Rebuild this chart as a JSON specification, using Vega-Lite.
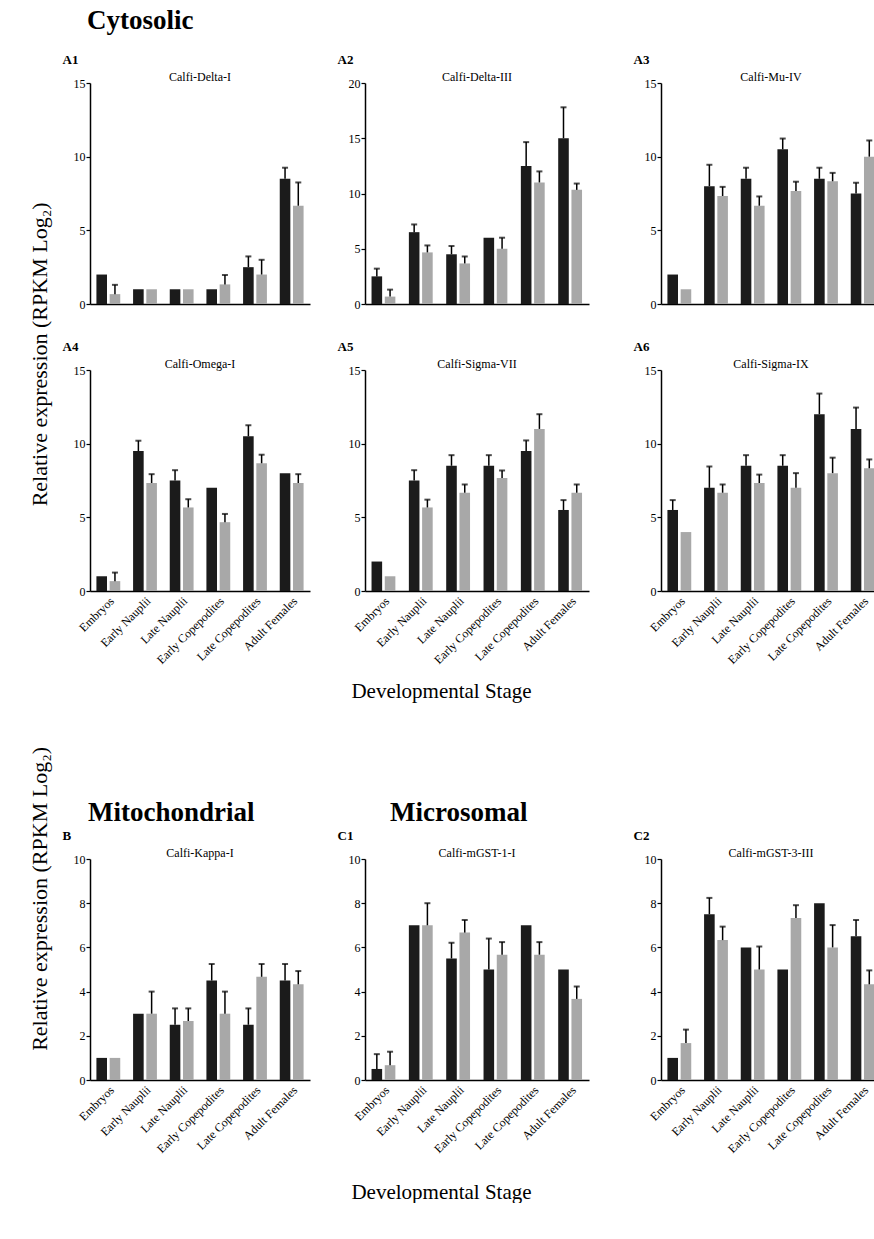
{
  "$schema": "https://vega.github.io/schema/vega-lite/v6.json",
  "padding": {"left": 28, "top": 7, "right": 0, "bottom": 0},
  "background": "white",
  "config": {
    "view": {"stroke": null},
    "font": "Liberation Serif",
    "axis": {"grid": false, "domainColor": "black", "domainWidth": 1.5, "tickColor": "black", "labelColor": "black", "labelFont": "Liberation Serif", "labelFontSize": 12, "titleFont": "Liberation Serif", "titleColor": "black"},
    "axisY": {"tickSize": 4, "tickWidth": 1.2, "labelPadding": 1},
    "axisX": {"ticks": false, "labelAngle": -45, "labelPadding": 4},
    "title": {"font": "Liberation Serif", "color": "black", "fontWeight": "normal", "fontSize": 12, "offset": -31, "anchor": "middle"}
  },
  "data": {"values": [
    {"panel":"A1","stage":"Embryos","series":"s1","value":2,"upper":null},
    {"panel":"A1","stage":"Embryos","series":"s2","value":0.67,"upper":1.3},
    {"panel":"A1","stage":"Early Nauplii","series":"s1","value":1,"upper":null},
    {"panel":"A1","stage":"Early Nauplii","series":"s2","value":1,"upper":null},
    {"panel":"A1","stage":"Late Nauplii","series":"s1","value":1,"upper":null},
    {"panel":"A1","stage":"Late Nauplii","series":"s2","value":1,"upper":null},
    {"panel":"A1","stage":"Early Copepodites","series":"s1","value":1,"upper":null},
    {"panel":"A1","stage":"Early Copepodites","series":"s2","value":1.33,"upper":1.97},
    {"panel":"A1","stage":"Late Copepodites","series":"s1","value":2.5,"upper":3.23},
    {"panel":"A1","stage":"Late Copepodites","series":"s2","value":2,"upper":3},
    {"panel":"A1","stage":"Adult Females","series":"s1","value":8.5,"upper":9.25},
    {"panel":"A1","stage":"Adult Females","series":"s2","value":6.67,"upper":8.25},

    {"panel":"A2","stage":"Embryos","series":"s1","value":2.5,"upper":3.2},
    {"panel":"A2","stage":"Embryos","series":"s2","value":0.67,"upper":1.3},
    {"panel":"A2","stage":"Early Nauplii","series":"s1","value":6.5,"upper":7.2},
    {"panel":"A2","stage":"Early Nauplii","series":"s2","value":4.67,"upper":5.3},
    {"panel":"A2","stage":"Late Nauplii","series":"s1","value":4.5,"upper":5.25},
    {"panel":"A2","stage":"Late Nauplii","series":"s2","value":3.67,"upper":4.3},
    {"panel":"A2","stage":"Early Copepodites","series":"s1","value":6,"upper":null},
    {"panel":"A2","stage":"Early Copepodites","series":"s2","value":5,"upper":6},
    {"panel":"A2","stage":"Late Copepodites","series":"s1","value":12.5,"upper":14.65},
    {"panel":"A2","stage":"Late Copepodites","series":"s2","value":11,"upper":12},
    {"panel":"A2","stage":"Adult Females","series":"s1","value":15,"upper":17.8},
    {"panel":"A2","stage":"Adult Females","series":"s2","value":10.33,"upper":10.9},

    {"panel":"A3","stage":"Embryos","series":"s1","value":2,"upper":null},
    {"panel":"A3","stage":"Embryos","series":"s2","value":1,"upper":null},
    {"panel":"A3","stage":"Early Nauplii","series":"s1","value":8,"upper":9.45},
    {"panel":"A3","stage":"Early Nauplii","series":"s2","value":7.33,"upper":7.95},
    {"panel":"A3","stage":"Late Nauplii","series":"s1","value":8.5,"upper":9.25},
    {"panel":"A3","stage":"Late Nauplii","series":"s2","value":6.67,"upper":7.3},
    {"panel":"A3","stage":"Early Copepodites","series":"s1","value":10.5,"upper":11.23},
    {"panel":"A3","stage":"Early Copepodites","series":"s2","value":7.67,"upper":8.3},
    {"panel":"A3","stage":"Late Copepodites","series":"s1","value":8.5,"upper":9.25},
    {"panel":"A3","stage":"Late Copepodites","series":"s2","value":8.33,"upper":8.9},
    {"panel":"A3","stage":"Adult Females","series":"s1","value":7.5,"upper":8.23},
    {"panel":"A3","stage":"Adult Females","series":"s2","value":10,"upper":11.1},

    {"panel":"A4","stage":"Embryos","series":"s1","value":1,"upper":null},
    {"panel":"A4","stage":"Embryos","series":"s2","value":0.67,"upper":1.25},
    {"panel":"A4","stage":"Early Nauplii","series":"s1","value":9.5,"upper":10.2},
    {"panel":"A4","stage":"Early Nauplii","series":"s2","value":7.33,"upper":7.93},
    {"panel":"A4","stage":"Late Nauplii","series":"s1","value":7.5,"upper":8.2},
    {"panel":"A4","stage":"Late Nauplii","series":"s2","value":5.67,"upper":6.23},
    {"panel":"A4","stage":"Early Copepodites","series":"s1","value":7,"upper":null},
    {"panel":"A4","stage":"Early Copepodites","series":"s2","value":4.67,"upper":5.23},
    {"panel":"A4","stage":"Late Copepodites","series":"s1","value":10.5,"upper":11.25},
    {"panel":"A4","stage":"Late Copepodites","series":"s2","value":8.67,"upper":9.25},
    {"panel":"A4","stage":"Adult Females","series":"s1","value":8,"upper":null},
    {"panel":"A4","stage":"Adult Females","series":"s2","value":7.33,"upper":7.93},

    {"panel":"A5","stage":"Embryos","series":"s1","value":2,"upper":null},
    {"panel":"A5","stage":"Embryos","series":"s2","value":1,"upper":null},
    {"panel":"A5","stage":"Early Nauplii","series":"s1","value":7.5,"upper":8.2},
    {"panel":"A5","stage":"Early Nauplii","series":"s2","value":5.67,"upper":6.2},
    {"panel":"A5","stage":"Late Nauplii","series":"s1","value":8.5,"upper":9.22},
    {"panel":"A5","stage":"Late Nauplii","series":"s2","value":6.67,"upper":7.23},
    {"panel":"A5","stage":"Early Copepodites","series":"s1","value":8.5,"upper":9.22},
    {"panel":"A5","stage":"Early Copepodites","series":"s2","value":7.67,"upper":8.18},
    {"panel":"A5","stage":"Late Copepodites","series":"s1","value":9.5,"upper":10.22},
    {"panel":"A5","stage":"Late Copepodites","series":"s2","value":11,"upper":12},
    {"panel":"A5","stage":"Adult Females","series":"s1","value":5.5,"upper":6.17},
    {"panel":"A5","stage":"Adult Females","series":"s2","value":6.67,"upper":7.23},

    {"panel":"A6","stage":"Embryos","series":"s1","value":5.5,"upper":6.17},
    {"panel":"A6","stage":"Embryos","series":"s2","value":4,"upper":null},
    {"panel":"A6","stage":"Early Nauplii","series":"s1","value":7,"upper":8.45},
    {"panel":"A6","stage":"Early Nauplii","series":"s2","value":6.67,"upper":7.23},
    {"panel":"A6","stage":"Late Nauplii","series":"s1","value":8.5,"upper":9.22},
    {"panel":"A6","stage":"Late Nauplii","series":"s2","value":7.33,"upper":7.9},
    {"panel":"A6","stage":"Early Copepodites","series":"s1","value":8.5,"upper":9.22},
    {"panel":"A6","stage":"Early Copepodites","series":"s2","value":7,"upper":8},
    {"panel":"A6","stage":"Late Copepodites","series":"s1","value":12,"upper":13.4},
    {"panel":"A6","stage":"Late Copepodites","series":"s2","value":8,"upper":9.05},
    {"panel":"A6","stage":"Adult Females","series":"s1","value":11,"upper":12.45},
    {"panel":"A6","stage":"Adult Females","series":"s2","value":8.33,"upper":8.93},

    {"panel":"B","stage":"Embryos","series":"s1","value":1,"upper":null},
    {"panel":"B","stage":"Embryos","series":"s2","value":1,"upper":null},
    {"panel":"B","stage":"Early Nauplii","series":"s1","value":3,"upper":null},
    {"panel":"B","stage":"Early Nauplii","series":"s2","value":3,"upper":4},
    {"panel":"B","stage":"Late Nauplii","series":"s1","value":2.5,"upper":3.24},
    {"panel":"B","stage":"Late Nauplii","series":"s2","value":2.67,"upper":3.24},
    {"panel":"B","stage":"Early Copepodites","series":"s1","value":4.5,"upper":5.25},
    {"panel":"B","stage":"Early Copepodites","series":"s2","value":3,"upper":4},
    {"panel":"B","stage":"Late Copepodites","series":"s1","value":2.5,"upper":3.24},
    {"panel":"B","stage":"Late Copepodites","series":"s2","value":4.67,"upper":5.25},
    {"panel":"B","stage":"Adult Females","series":"s1","value":4.5,"upper":5.25},
    {"panel":"B","stage":"Adult Females","series":"s2","value":4.33,"upper":4.93},

    {"panel":"C1","stage":"Embryos","series":"s1","value":0.5,"upper":1.17},
    {"panel":"C1","stage":"Embryos","series":"s2","value":0.67,"upper":1.28},
    {"panel":"C1","stage":"Early Nauplii","series":"s1","value":7,"upper":null},
    {"panel":"C1","stage":"Early Nauplii","series":"s2","value":7,"upper":8},
    {"panel":"C1","stage":"Late Nauplii","series":"s1","value":5.5,"upper":6.21},
    {"panel":"C1","stage":"Late Nauplii","series":"s2","value":6.67,"upper":7.24},
    {"panel":"C1","stage":"Early Copepodites","series":"s1","value":5,"upper":6.4},
    {"panel":"C1","stage":"Early Copepodites","series":"s2","value":5.67,"upper":6.24},
    {"panel":"C1","stage":"Late Copepodites","series":"s1","value":7,"upper":null},
    {"panel":"C1","stage":"Late Copepodites","series":"s2","value":5.67,"upper":6.24},
    {"panel":"C1","stage":"Adult Females","series":"s1","value":5,"upper":null},
    {"panel":"C1","stage":"Adult Females","series":"s2","value":3.67,"upper":4.23},

    {"panel":"C2","stage":"Embryos","series":"s1","value":1,"upper":null},
    {"panel":"C2","stage":"Embryos","series":"s2","value":1.67,"upper":2.28},
    {"panel":"C2","stage":"Early Nauplii","series":"s1","value":7.5,"upper":8.24},
    {"panel":"C2","stage":"Early Nauplii","series":"s2","value":6.33,"upper":6.94},
    {"panel":"C2","stage":"Late Nauplii","series":"s1","value":6,"upper":null},
    {"panel":"C2","stage":"Late Nauplii","series":"s2","value":5,"upper":6.04},
    {"panel":"C2","stage":"Early Copepodites","series":"s1","value":5,"upper":null},
    {"panel":"C2","stage":"Early Copepodites","series":"s2","value":7.33,"upper":7.91},
    {"panel":"C2","stage":"Late Copepodites","series":"s1","value":8,"upper":null},
    {"panel":"C2","stage":"Late Copepodites","series":"s2","value":6,"upper":7.01},
    {"panel":"C2","stage":"Adult Females","series":"s1","value":6.5,"upper":7.24},
    {"panel":"C2","stage":"Adult Females","series":"s2","value":4.33,"upper":4.96}
  ]},
  "spacing": 44,
  "vconcat": [
    {
      "title": {"text": "Relative expression (RPKM Log₂)", "orient": "left", "fontSize": 22, "anchor": "middle", "offset": 10},
      "vconcat": [
        {
          "title": {"text": "Developmental Stage", "orient": "bottom", "fontSize": 21, "anchor": "middle", "offset": 15, "dx": -30},
          "spacing": 30,
          "vconcat": [
            {
              "title": {"text": "Cytosolic", "fontSize": 27, "fontWeight": "bold", "anchor": "start", "dx": 25, "offset": 18},
              "spacing": 44,
              "hconcat": [
                {"spacing": 27, "hconcat": [
                  {"width": 220, "height": 221, "title": {"text": "Calfi-Delta-I"}, "transform": [{"filter": "datum.panel === 'A1'"}],
                   "encoding": {"x": {"field": "stage", "type": "nominal", "sort": ["Embryos","Early Nauplii","Late Nauplii","Early Copepodites","Late Copepodites","Adult Females"], "title": null, "scale": {"paddingInner": 0.35, "paddingOuter": 0.175}, "axis": {"labels": false}},
                     "xOffset": {"field": "series", "type": "nominal", "scale": {"paddingInner": 0.2}}},
                   "layer": [
                     {"mark": {"type": "bar"}, "encoding": {"y": {"field": "value", "type": "quantitative", "scale": {"domain": [0, 15], "nice": false}, "axis": {"values": [0,5,10,15], "title": "A1", "titleAngle": 0, "titleAlign": "left", "titleBaseline": "alphabetic", "titleX": -28, "titleY": -20, "titleFontSize": 13, "titleFontWeight": "bold"}}, "color": {"field": "series", "type": "nominal", "scale": {"domain": ["s1","s2"], "range": ["#1b1b1b","#a8a8a8"]}, "legend": null}}},
                     {"transform": [{"filter": "datum.upper != null"}], "mark": {"type": "rule", "color": "black", "strokeWidth": 1.5}, "encoding": {"y": {"field": "value", "type": "quantitative"}, "y2": {"field": "upper"}}},
                     {"transform": [{"filter": "datum.upper != null"}], "mark": {"type": "tick", "color": "black", "size": 6, "thickness": 2}, "encoding": {"y": {"field": "upper", "type": "quantitative"}}}
                   ]},
                  {"width": 224, "height": 221, "title": {"text": "Calfi-Delta-III"}, "transform": [{"filter": "datum.panel === 'A2'"}],
                   "encoding": {"x": {"field": "stage", "type": "nominal", "sort": ["Embryos","Early Nauplii","Late Nauplii","Early Copepodites","Late Copepodites","Adult Females"], "title": null, "scale": {"paddingInner": 0.35, "paddingOuter": 0.175}, "axis": {"labels": false}},
                     "xOffset": {"field": "series", "type": "nominal", "scale": {"paddingInner": 0.2}}},
                   "layer": [
                     {"mark": {"type": "bar"}, "encoding": {"y": {"field": "value", "type": "quantitative", "scale": {"domain": [0, 20], "nice": false}, "axis": {"values": [0,5,10,15,20], "title": "A2", "titleAngle": 0, "titleAlign": "left", "titleBaseline": "alphabetic", "titleX": -28, "titleY": -20, "titleFontSize": 13, "titleFontWeight": "bold"}}, "color": {"field": "series", "type": "nominal", "scale": {"domain": ["s1","s2"], "range": ["#1b1b1b","#a8a8a8"]}, "legend": null}}},
                     {"transform": [{"filter": "datum.upper != null"}], "mark": {"type": "rule", "color": "black", "strokeWidth": 1.5}, "encoding": {"y": {"field": "value", "type": "quantitative"}, "y2": {"field": "upper"}}},
                     {"transform": [{"filter": "datum.upper != null"}], "mark": {"type": "tick", "color": "black", "size": 6, "thickness": 2}, "encoding": {"y": {"field": "upper", "type": "quantitative"}}}
                   ]}
                ]},
                {"width": 220, "height": 221, "title": {"text": "Calfi-Mu-IV"}, "transform": [{"filter": "datum.panel === 'A3'"}],
                 "encoding": {"x": {"field": "stage", "type": "nominal", "sort": ["Embryos","Early Nauplii","Late Nauplii","Early Copepodites","Late Copepodites","Adult Females"], "title": null, "scale": {"paddingInner": 0.35, "paddingOuter": 0.175}, "axis": {"labels": false}},
                   "xOffset": {"field": "series", "type": "nominal", "scale": {"paddingInner": 0.2}}},
                 "layer": [
                   {"mark": {"type": "bar"}, "encoding": {"y": {"field": "value", "type": "quantitative", "scale": {"domain": [0, 15], "nice": false}, "axis": {"values": [0,5,10,15], "title": "A3", "titleAngle": 0, "titleAlign": "left", "titleBaseline": "alphabetic", "titleX": -28, "titleY": -20, "titleFontSize": 13, "titleFontWeight": "bold"}}, "color": {"field": "series", "type": "nominal", "scale": {"domain": ["s1","s2"], "range": ["#1b1b1b","#a8a8a8"]}, "legend": null}}},
                   {"transform": [{"filter": "datum.upper != null"}], "mark": {"type": "rule", "color": "black", "strokeWidth": 1.5}, "encoding": {"y": {"field": "value", "type": "quantitative"}, "y2": {"field": "upper"}}},
                   {"transform": [{"filter": "datum.upper != null"}], "mark": {"type": "tick", "color": "black", "size": 6, "thickness": 2}, "encoding": {"y": {"field": "upper", "type": "quantitative"}}}
                 ]}
              ]
            },
            {
              "spacing": 44,
              "hconcat": [
                {"spacing": 27, "hconcat": [
                  {"width": 220, "height": 221, "title": {"text": "Calfi-Omega-I"}, "transform": [{"filter": "datum.panel === 'A4'"}],
                   "encoding": {"x": {"field": "stage", "type": "nominal", "sort": ["Embryos","Early Nauplii","Late Nauplii","Early Copepodites","Late Copepodites","Adult Females"], "title": null, "scale": {"paddingInner": 0.35, "paddingOuter": 0.175}},
                     "xOffset": {"field": "series", "type": "nominal", "scale": {"paddingInner": 0.2}}},
                   "layer": [
                     {"mark": {"type": "bar"}, "encoding": {"y": {"field": "value", "type": "quantitative", "scale": {"domain": [0, 15], "nice": false}, "axis": {"values": [0,5,10,15], "title": "A4", "titleAngle": 0, "titleAlign": "left", "titleBaseline": "alphabetic", "titleX": -28, "titleY": -20, "titleFontSize": 13, "titleFontWeight": "bold"}}, "color": {"field": "series", "type": "nominal", "scale": {"domain": ["s1","s2"], "range": ["#1b1b1b","#a8a8a8"]}, "legend": null}}},
                     {"transform": [{"filter": "datum.upper != null"}], "mark": {"type": "rule", "color": "black", "strokeWidth": 1.5}, "encoding": {"y": {"field": "value", "type": "quantitative"}, "y2": {"field": "upper"}}},
                     {"transform": [{"filter": "datum.upper != null"}], "mark": {"type": "tick", "color": "black", "size": 6, "thickness": 2}, "encoding": {"y": {"field": "upper", "type": "quantitative"}}}
                   ]},
                  {"width": 224, "height": 221, "title": {"text": "Calfi-Sigma-VII"}, "transform": [{"filter": "datum.panel === 'A5'"}],
                   "encoding": {"x": {"field": "stage", "type": "nominal", "sort": ["Embryos","Early Nauplii","Late Nauplii","Early Copepodites","Late Copepodites","Adult Females"], "title": null, "scale": {"paddingInner": 0.35, "paddingOuter": 0.175}},
                     "xOffset": {"field": "series", "type": "nominal", "scale": {"paddingInner": 0.2}}},
                   "layer": [
                     {"mark": {"type": "bar"}, "encoding": {"y": {"field": "value", "type": "quantitative", "scale": {"domain": [0, 15], "nice": false}, "axis": {"values": [0,5,10,15], "title": "A5", "titleAngle": 0, "titleAlign": "left", "titleBaseline": "alphabetic", "titleX": -28, "titleY": -20, "titleFontSize": 13, "titleFontWeight": "bold"}}, "color": {"field": "series", "type": "nominal", "scale": {"domain": ["s1","s2"], "range": ["#1b1b1b","#a8a8a8"]}, "legend": null}}},
                     {"transform": [{"filter": "datum.upper != null"}], "mark": {"type": "rule", "color": "black", "strokeWidth": 1.5}, "encoding": {"y": {"field": "value", "type": "quantitative"}, "y2": {"field": "upper"}}},
                     {"transform": [{"filter": "datum.upper != null"}], "mark": {"type": "tick", "color": "black", "size": 6, "thickness": 2}, "encoding": {"y": {"field": "upper", "type": "quantitative"}}}
                   ]}
                ]},
                {"width": 220, "height": 221, "title": {"text": "Calfi-Sigma-IX"}, "transform": [{"filter": "datum.panel === 'A6'"}],
                 "encoding": {"x": {"field": "stage", "type": "nominal", "sort": ["Embryos","Early Nauplii","Late Nauplii","Early Copepodites","Late Copepodites","Adult Females"], "title": null, "scale": {"paddingInner": 0.35, "paddingOuter": 0.175}},
                   "xOffset": {"field": "series", "type": "nominal", "scale": {"paddingInner": 0.2}}},
                 "layer": [
                   {"mark": {"type": "bar"}, "encoding": {"y": {"field": "value", "type": "quantitative", "scale": {"domain": [0, 15], "nice": false}, "axis": {"values": [0,5,10,15], "title": "A6", "titleAngle": 0, "titleAlign": "left", "titleBaseline": "alphabetic", "titleX": -28, "titleY": -20, "titleFontSize": 13, "titleFontWeight": "bold"}}, "color": {"field": "series", "type": "nominal", "scale": {"domain": ["s1","s2"], "range": ["#1b1b1b","#a8a8a8"]}, "legend": null}}},
                   {"transform": [{"filter": "datum.upper != null"}], "mark": {"type": "rule", "color": "black", "strokeWidth": 1.5}, "encoding": {"y": {"field": "value", "type": "quantitative"}, "y2": {"field": "upper"}}},
                   {"transform": [{"filter": "datum.upper != null"}], "mark": {"type": "tick", "color": "black", "size": 6, "thickness": 2}, "encoding": {"y": {"field": "upper", "type": "quantitative"}}}
                 ]}
              ]
            }
          ]
        }
      ]
    },
    {
      "title": {"text": "Relative expression (RPKM Log₂)", "orient": "left", "fontSize": 22, "anchor": "middle", "offset": 10, "dx": 102},
      "vconcat": [
        {
          "title": {"text": "Developmental Stage", "orient": "bottom", "fontSize": 21, "anchor": "middle", "offset": 27, "dx": -30},
          "spacing": 27,
          "hconcat": [
            {
              "title": {"text": "Mitochondrial", "fontSize": 27, "fontWeight": "bold", "anchor": "start", "dx": 26, "offset": 2},
              "hconcat": [
                {"width": 220, "height": 221, "title": {"text": "Calfi-Kappa-I"}, "transform": [{"filter": "datum.panel === 'B'"}],
                 "encoding": {"x": {"field": "stage", "type": "nominal", "sort": ["Embryos","Early Nauplii","Late Nauplii","Early Copepodites","Late Copepodites","Adult Females"], "title": null, "scale": {"paddingInner": 0.35, "paddingOuter": 0.175}},
                   "xOffset": {"field": "series", "type": "nominal", "scale": {"paddingInner": 0.2}}},
                 "layer": [
                   {"mark": {"type": "bar"}, "encoding": {"y": {"field": "value", "type": "quantitative", "scale": {"domain": [0, 10], "nice": false}, "axis": {"values": [0,2,4,6,8,10], "title": "B", "titleAngle": 0, "titleAlign": "left", "titleBaseline": "alphabetic", "titleX": -28, "titleY": -20, "titleFontSize": 13, "titleFontWeight": "bold"}}, "color": {"field": "series", "type": "nominal", "scale": {"domain": ["s1","s2"], "range": ["#1b1b1b","#a8a8a8"]}, "legend": null}}},
                   {"transform": [{"filter": "datum.upper != null"}], "mark": {"type": "rule", "color": "black", "strokeWidth": 1.5}, "encoding": {"y": {"field": "value", "type": "quantitative"}, "y2": {"field": "upper"}}},
                   {"transform": [{"filter": "datum.upper != null"}], "mark": {"type": "tick", "color": "black", "size": 6, "thickness": 2}, "encoding": {"y": {"field": "upper", "type": "quantitative"}}}
                 ]}
              ]
            },
            {
              "title": {"text": "Microsomal", "fontSize": 27, "fontWeight": "bold", "anchor": "start", "dx": 53, "offset": 2},
              "spacing": 44,
              "hconcat": [
                {"width": 224, "height": 221, "title": {"text": "Calfi-mGST-1-I"}, "transform": [{"filter": "datum.panel === 'C1'"}],
                 "encoding": {"x": {"field": "stage", "type": "nominal", "sort": ["Embryos","Early Nauplii","Late Nauplii","Early Copepodites","Late Copepodites","Adult Females"], "title": null, "scale": {"paddingInner": 0.35, "paddingOuter": 0.175}},
                   "xOffset": {"field": "series", "type": "nominal", "scale": {"paddingInner": 0.2}}},
                 "layer": [
                   {"mark": {"type": "bar"}, "encoding": {"y": {"field": "value", "type": "quantitative", "scale": {"domain": [0, 10], "nice": false}, "axis": {"values": [0,2,4,6,8,10], "title": "C1", "titleAngle": 0, "titleAlign": "left", "titleBaseline": "alphabetic", "titleX": -28, "titleY": -20, "titleFontSize": 13, "titleFontWeight": "bold"}}, "color": {"field": "series", "type": "nominal", "scale": {"domain": ["s1","s2"], "range": ["#1b1b1b","#a8a8a8"]}, "legend": null}}},
                   {"transform": [{"filter": "datum.upper != null"}], "mark": {"type": "rule", "color": "black", "strokeWidth": 1.5}, "encoding": {"y": {"field": "value", "type": "quantitative"}, "y2": {"field": "upper"}}},
                   {"transform": [{"filter": "datum.upper != null"}], "mark": {"type": "tick", "color": "black", "size": 6, "thickness": 2}, "encoding": {"y": {"field": "upper", "type": "quantitative"}}}
                 ]},
                {"width": 220, "height": 221, "title": {"text": "Calfi-mGST-3-III"}, "transform": [{"filter": "datum.panel === 'C2'"}],
                 "encoding": {"x": {"field": "stage", "type": "nominal", "sort": ["Embryos","Early Nauplii","Late Nauplii","Early Copepodites","Late Copepodites","Adult Females"], "title": null, "scale": {"paddingInner": 0.35, "paddingOuter": 0.175}},
                   "xOffset": {"field": "series", "type": "nominal", "scale": {"paddingInner": 0.2}}},
                 "layer": [
                   {"mark": {"type": "bar"}, "encoding": {"y": {"field": "value", "type": "quantitative", "scale": {"domain": [0, 10], "nice": false}, "axis": {"values": [0,2,4,6,8,10], "title": "C2", "titleAngle": 0, "titleAlign": "left", "titleBaseline": "alphabetic", "titleX": -28, "titleY": -20, "titleFontSize": 13, "titleFontWeight": "bold"}}, "color": {"field": "series", "type": "nominal", "scale": {"domain": ["s1","s2"], "range": ["#1b1b1b","#a8a8a8"]}, "legend": null}}},
                   {"transform": [{"filter": "datum.upper != null"}], "mark": {"type": "rule", "color": "black", "strokeWidth": 1.5}, "encoding": {"y": {"field": "value", "type": "quantitative"}, "y2": {"field": "upper"}}},
                   {"transform": [{"filter": "datum.upper != null"}], "mark": {"type": "tick", "color": "black", "size": 6, "thickness": 2}, "encoding": {"y": {"field": "upper", "type": "quantitative"}}}
                 ]}
              ]
            }
          ]
        }
      ]
    }
  ]
}
